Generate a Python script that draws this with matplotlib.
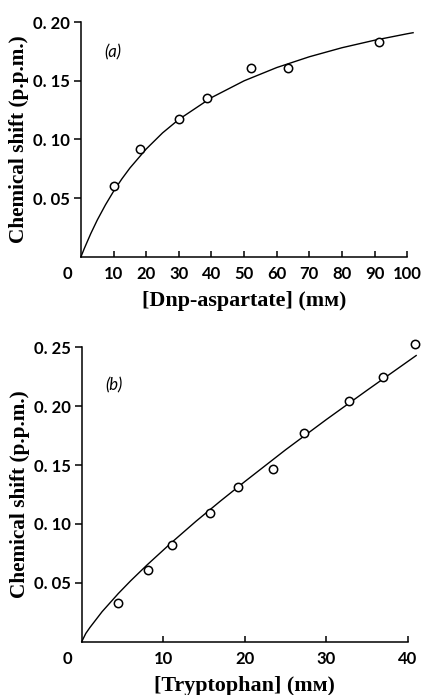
import numpy as np
import matplotlib
matplotlib.use("Agg")
import matplotlib.pyplot as plt

# panel (a): Dnp-aspartate
asp_conc = [10, 18.1, 30.1, 38.7, 52.0, 63.5, 91.3]
asp_shift = [0.060, 0.092, 0.117, 0.135, 0.161, 0.161, 0.183]
asp_fit_x = [0, 1, 3, 5, 7.5, 10, 12.5, 15, 20, 25, 30, 40, 50, 60, 70, 80, 90, 100, 101.8]
asp_fit_y = [0, 0.0069, 0.0197, 0.0313, 0.0442, 0.0558, 0.0662, 0.0756, 0.0918, 0.1055,
             0.117, 0.1356, 0.1499, 0.1612, 0.1704, 0.1781, 0.1845, 0.190, 0.1909]

# panel (b): tryptophan
trp_conc = [4.5, 8.1, 11.1, 15.7, 19.1, 23.4, 27.3, 32.8, 36.9, 40.9]
trp_shift = [0.033, 0.061, 0.0825, 0.109, 0.131, 0.147, 0.177, 0.204, 0.225, 0.2525]
trp_fit_x = [0, 0.5, 1, 2.5, 4.5, 6, 8, 11, 14, 17, 20, 25, 30, 35, 41]
trp_fit_y = [0, 0.007, 0.012, 0.0255, 0.041, 0.0517, 0.0651, 0.0841, 0.1022, 0.1194,
             0.136, 0.163, 0.1887, 0.2136, 0.243]

asp_xticks = [10, 20, 30, 40, 50, 60, 70, 80, 90, 100]
asp_yticks = [0.05, 0.10, 0.15, 0.20]
trp_xticks = [10, 20, 30, 40]
trp_yticks = [0.05, 0.10, 0.15, 0.20, 0.25]

serif = ['Liberation Serif', 'DejaVu Serif']
tickfont = dict(family='Lato', weight='bold', size=12)


def setup_axes(ax, xmax, ymax, xticks, yticks, xlabel, tag):
    ax.set_xlim(0, xmax)
    ax.set_ylim(0, ymax)
    for s in ['top', 'right']:
        ax.spines[s].set_visible(False)
    for s in ['left', 'bottom']:
        ax.spines[s].set_linewidth(1.1)
    ax.set_xticks(xticks)
    ax.set_yticks(yticks)
    ax.set_xticklabels([str(t) for t in xticks], fontdict=tickfont)
    # the original prints a gap after the decimal point
    ax.set_yticklabels([('%.2f' % t).replace('.', '. ') for t in yticks], fontdict=tickfont)
    ax.tick_params(axis='x', direction='in', length=4, width=1.1, pad=7)
    ax.tick_params(axis='y', direction='out', length=5, width=1.1, pad=3)
    ax.annotate('0', xy=(0, 0), xycoords='axes fraction', xytext=(-10, -7),
                textcoords='offset points', ha='center', va='top', **tickfont)
    ax.set_ylabel('Chemical shift (p.p.m.)', family=serif, weight='bold', fontsize=15.3, labelpad=3)
    ax.set_xlabel(xlabel, family=serif, weight='bold', fontsize=15.8, labelpad=6)
    ax.text(0.098, 0.872, tag, transform=ax.transAxes, style='italic', family='Lato',
            fontsize=12, ha='center', va='center')


fig = plt.figure(figsize=(4.36, 6.95), dpi=100)

ax1 = fig.add_axes([0.1858, 0.6307, 0.7482, 0.3376])
ax1.plot(asp_fit_x, asp_fit_y, color='black', lw=1.0, clip_on=False)
ax1.plot(asp_conc, asp_shift, 'o', mfc='white', mec='black', mew=1.1, ms=6, clip_on=False)
setup_axes(ax1, 100, 0.20, asp_xticks, asp_yticks, '[Dnp-aspartate] (mᴍ)', '(a)')

ax2 = fig.add_axes([0.1874, 0.0767, 0.7484, 0.4236])
ax2.plot(trp_fit_x, trp_fit_y, color='black', lw=1.0, clip_on=False)
ax2.plot(trp_conc, trp_shift, 'o', mfc='white', mec='black', mew=1.1, ms=6, clip_on=False)
setup_axes(ax2, 40, 0.25, trp_xticks, trp_yticks, '[Tryptophan] (mᴍ)', '(b)')

fig.savefig('out.png', dpi=100)
